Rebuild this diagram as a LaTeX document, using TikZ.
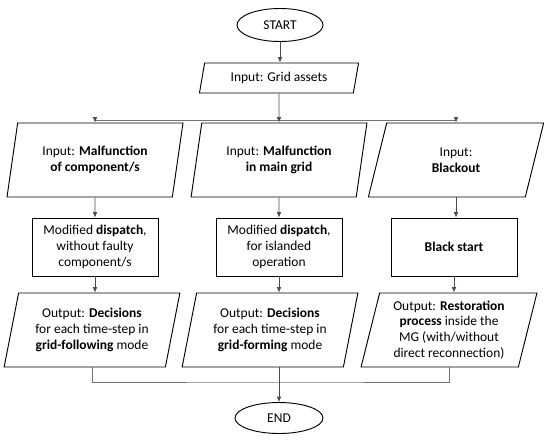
\documentclass[tikz,border=0pt]{standalone}
\usepackage{fontspec}
\setmainfont{Carlito}
\usetikzlibrary{positioning,arrows.meta,shapes.geometric}
\tikzset{
  flowarrow/.style={-{Latex[length=1.6mm, width=1.4mm]}, line width=0.6pt, black!70},
  flowline/.style={line width=0.6pt, black!55},
  termnode/.style={draw, ellipse, line width=0.8pt, minimum width=25.8mm, minimum height=9.9mm, inner sep=1pt},
  ionode/.style={draw, trapezium, trapezium left angle=76, trapezium right angle=104, trapezium stretches=true, line width=0.8pt, minimum width=52.8mm, minimum height=22.2mm, align=center, inner sep=1pt},
  procnode/.style={draw, rectangle, line width=0.8pt, minimum width=37.8mm, minimum height=17.4mm, align=center, inner sep=1pt}
}

\begin{document}
\begin{tikzpicture}[>=Latex, x=0.3mm, y=-0.3mm, every node/.style={font=\fontsize{11.5}{13.5}\selectfont}]
  \useasboundingbox (0,0) rectangle (550,439);
  \node[termnode] (start) at (280,25) {START};
  \node[ionode, minimum width=48mm, minimum height=9mm] (assets) at (279,78) {Input: Grid assets};
  \node[ionode] (inL) at (95,160) {Input: \textbf{Malfunction}\\\textbf{of component/s}};
  \node[ionode] (inM) at (279,160) {Input: \textbf{Malfunction}\\\textbf{in main grid}};
  \node[ionode] (inR) at (456,160) {Input:\\\textbf{Blackout}};
  \node[procnode] (dispL) at (95,247) {Modified \textbf{dispatch},\\without faulty\\component/s};
  \node[procnode] (dispM) at (279,247) {Modified \textbf{dispatch},\\for islanded\\operation};
  \node[procnode] (dispR) at (454,247) {\textbf{Black start}};
  \node[ionode] (outL) at (92,330) {Output: \textbf{Decisions}\\for each time-step in\\\textbf{grid-following} mode};
  \node[ionode] (outM) at (270,330) {Output: \textbf{Decisions}\\for each time-step in\\\textbf{grid-forming} mode};
  \node[ionode] (outR) at (449,330) {Output: \textbf{Restoration}\\\textbf{process} inside the\\MG (with/without\\direct reconnection)};
  \node[termnode, minimum width=26.4mm, minimum height=9.3mm] (end) at (279,418) {END};
  \coordinate (splitL) at (95,120);
  \coordinate (splitR) at (456,120);
  \coordinate (joinM) at (279,382);
  \draw[flowarrow] (start.south) -- (start.south |- assets.north);
  \draw[flowline] (splitL) -- (splitR);
  \draw[flowarrow] (assets) -- (inM);
  \draw[flowarrow] (splitL) -- (inL);
  \draw[flowarrow] (splitR) -- (inR);
  \draw[flowarrow] (inL) -- (dispL);
  \draw[flowarrow] (inM) -- (dispM);
  \draw[flowarrow] (inR.south) -- (inR.south |- dispR.north);
  \draw[flowarrow] (dispL.south) -- (dispL.south |- outL.north);
  \draw[flowarrow] (dispM.south) -- (dispM.south |- outM.north);
  \draw[flowarrow] (dispR.south) -- (dispR.south |- outR.north);
  \draw[flowline] (outL.south) |- (joinM) -| (outR.south);
  \draw[flowarrow] (joinM |- outM.south) -- (end);
\end{tikzpicture}
\end{document}
